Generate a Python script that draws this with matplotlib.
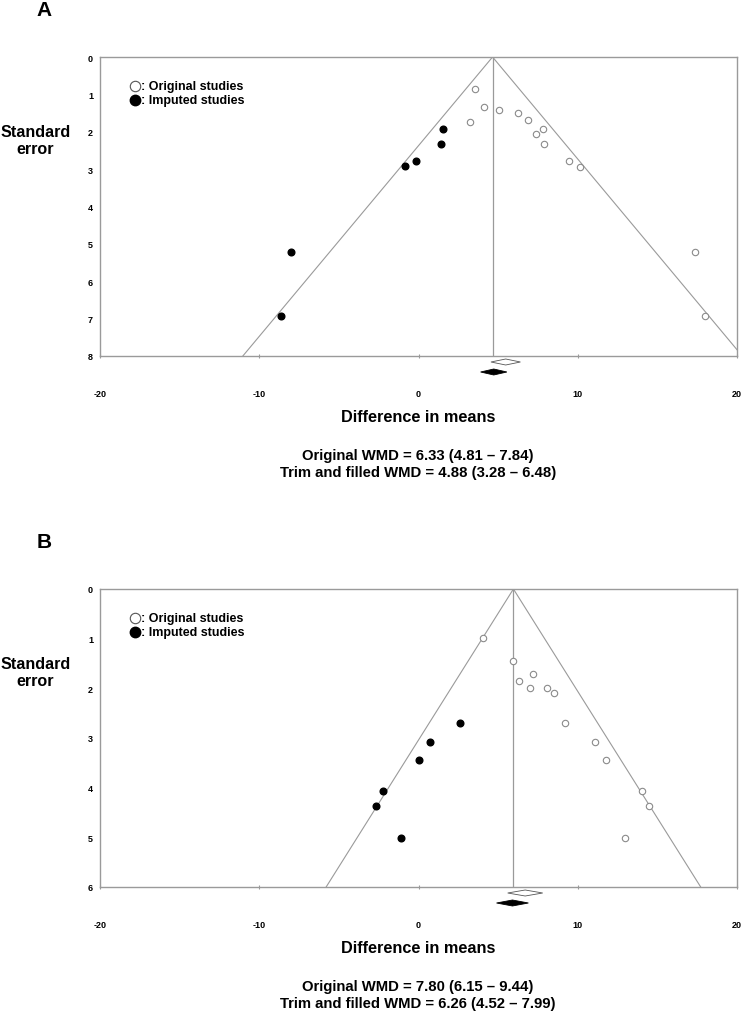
import numpy as np
import matplotlib.pyplot as plt
from matplotlib.patches import Polygon

plt.rcParams['font.family'] = ['Liberation Sans', 'DejaVu Sans']
plt.rcParams['font.weight'] = 'bold'

# Panel A : original studies (difference in means, standard error)
a_orig_x = [3.52, 4.13, 5.04, 3.21, 6.27, 6.90, 7.79, 7.40, 7.90, 9.48, 10.17, 17.35, 17.96]
a_orig_se = [0.86, 1.35, 1.43, 1.75, 1.50, 1.68, 1.92, 2.05, 2.32, 2.77, 2.93, 5.22, 6.94]
# Panel A : imputed studies
a_imp_x = [1.54, 1.44, -0.15, -0.86, -8.02, -8.63]
a_imp_se = [1.92, 2.32, 2.77, 2.92, 5.22, 6.94]
a_center = 4.65
a_diam_orig = (4.55, 6.40)
a_diam_fill = (3.90, 5.55)
a_text = ["Original WMD = 6.33 (4.81 \u2013 7.84)",
          "Trim and filled WMD = 4.88 (3.28 \u2013 6.48)"]

# Panel B
b_orig_x = [4.02, 5.92, 7.17, 6.31, 7.02, 8.10, 8.52, 9.19, 11.08, 11.79, 14.06, 14.46, 12.98]
b_orig_se = [0.98, 1.45, 1.71, 1.86, 2.00, 2.00, 2.09, 2.70, 3.08, 3.45, 4.06, 4.36, 5.02]
b_imp_x = [2.63, 0.73, 0.04, -2.25, -2.65, -1.12]
b_imp_se = [2.70, 3.08, 3.45, 4.06, 4.36, 5.02]
b_center = 5.96
b_diam_orig = (5.60, 7.80)
b_diam_fill = (4.90, 6.90)
b_text = ["Original WMD = 7.80 (6.15 \u2013 9.44)",
          "Trim and filled WMD = 6.26 (4.52 \u2013 7.99)"]

W, H = 742, 1020
fig = plt.figure(figsize=(W / 100, H / 100), dpi=100)

gris = '#9a9a9a'


def funnel(top, bottom, ymax, ox, ose, ix, ise, c, dorig, dfill, texts, label):
    ax = fig.add_axes([100 / W, 1 - bottom / H, 637 / W, (bottom - top) / H])
    ax.set_xlim(-20, 20)
    ax.set_ylim(ymax, 0)
    for s in ax.spines.values():
        s.set_color(gris)
        s.set_linewidth(1.0)
    # funnel lines
    se = np.array([0, ymax])
    ax.plot(c - 1.96 * se, se, color=gris, lw=0.8)
    ax.plot(c + 1.96 * se, se, color=gris, lw=0.8)
    ax.plot([c, c], [0, ymax], color=gris, lw=0.9)
    ax.plot(ox, ose, 'o', mfc='white', mec='#8a8a8a', mew=0.8, ms=4.6, ls='none')
    ax.plot(ix, ise, 'o', color='black', ms=4.8, ls='none')
    # diamonds below the axis
    pxu = ymax / (bottom - top)
    yo = ymax + 6 * pxu
    yf = ymax + 16 * pxu
    h = 3 * pxu
    for (lo, hi), y, fc in [(dorig, yo, 'white'), (dfill, yf, 'black')]:
        m = (lo + hi) / 2
        d = Polygon([[lo, y], [m, y - h], [hi, y], [m, y + h]], closed=True,
                    facecolor=fc, edgecolor='#555555' if fc == 'white' else 'black',
                    lw=0.6, clip_on=False)
        ax.add_patch(d)
    ax.set_xticks([-20, -10, 0, 10, 20])
    ax.set_xticklabels(['-20', '-10', '0', '10', '20'])
    ax.set_yticks(range(0, int(ymax) + 1))
    ax.tick_params(axis='x', direction='inout', length=3, color=gris, pad=22,
                   labelsize=6.5)
    ax.tick_params(axis='y', length=0, pad=5, labelsize=6.5)
    # legend
    ax.plot([0.055], [0.903], 'o', mfc='white', mec='#555555', mew=0.8, ms=7.5,
            transform=ax.transAxes, clip_on=False)
    ax.plot([0.055], [0.855], 'o', color='black', ms=7.5,
            transform=ax.transAxes, clip_on=False)
    ax.text(0.065, 0.903, ': Original studies', transform=ax.transAxes,
            fontsize=9, va='center', ha='left')
    ax.text(0.065, 0.855, ': Imputed studies', transform=ax.transAxes,
            fontsize=9, va='center', ha='left')
    # labels
    fig.text(44.5 / W, 1 - (top - 48) / H, label, fontsize=15, ha='center', va='center')
    fig.text(35.5 / W, 1 - (top + 83) / H, 'Standard\nerror', fontsize=11.6,
             ha='center', va='center', linespacing=1.15)
    fig.text(418 / W, 1 - (bottom + 61) / H, 'Difference in means', fontsize=11.7,
             ha='center', va='center')
    fig.text(418 / W, 1 - (bottom + 99) / H, texts[0], fontsize=10.7,
             ha='center', va='center')
    fig.text(418 / W, 1 - (bottom + 116) / H, texts[1], fontsize=10.7,
             ha='center', va='center')
    return ax


funnel(58, 357, 8, a_orig_x, a_orig_se, a_imp_x, a_imp_se, a_center,
       a_diam_orig, a_diam_fill, a_text, 'A')
funnel(590, 888, 6, b_orig_x, b_orig_se, b_imp_x, b_imp_se, b_center,
       b_diam_orig, b_diam_fill, b_text, 'B')

fig.savefig('out.png', dpi=100)
